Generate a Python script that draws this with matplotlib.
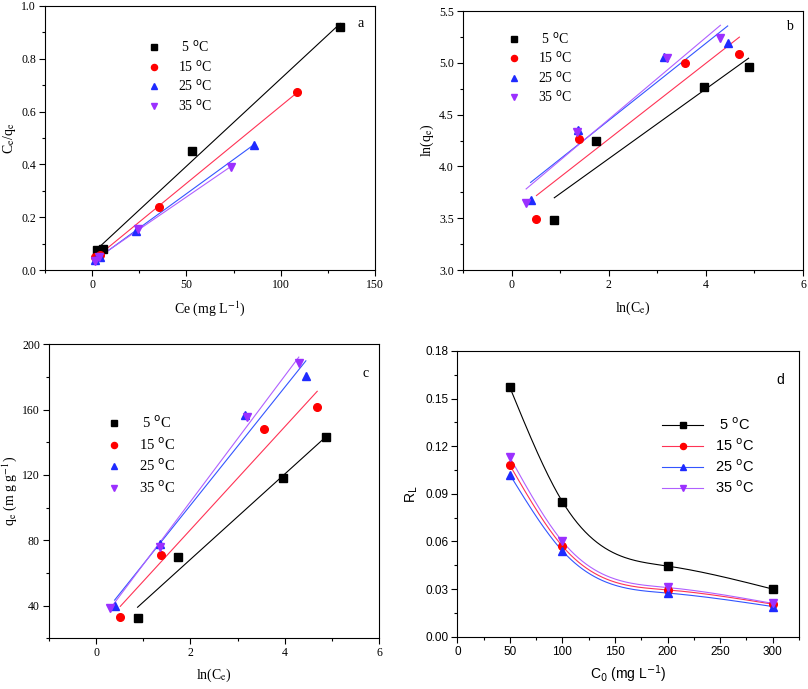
import numpy as np
import matplotlib
matplotlib.use("Agg")
import matplotlib.pyplot as plt
from matplotlib.ticker import MultipleLocator

# ---------------- data ----------------
temps = ["5", "15", "25", "35"]
# equilibrium concentration Ce (mg/L) and uptake qe (mg/g)
Ce_5 = [2.41, 5.64, 53.0, 131.6]
Ce_15 = [1.67, 3.97, 35.5, 108.9]
Ce_25 = [1.48, 3.90, 23.3, 85.6]
Ce_35 = [1.35, 3.86, 24.3, 73.7]
qe_5 = [32.5, 70.0, 118.0, 143.0]
qe_15 = [33.0, 71.0, 148.0, 161.5]
qe_25 = [39.5, 77.5, 157.0, 180.5]
qe_35 = [38.5, 76.0, 155.5, 188.5]
# separation factor R_L
C0 = [50, 100, 200, 300]
RL_5 = [0.157, 0.085, 0.0445, 0.030]
RL_15 = [0.108, 0.057, 0.0295, 0.0205]
RL_25 = [0.102, 0.054, 0.0275, 0.019]
RL_35 = [0.113, 0.060, 0.031, 0.021]

Ce_all = [Ce_5, Ce_15, Ce_25, Ce_35]
qe_all = [qe_5, qe_15, qe_25, qe_35]
RL_all = [RL_5, RL_15, RL_25, RL_35]

mk_colors = ["#000000", "#FF0000", "#1F2BFF", "#9B30FF"]
ln_colors = ["#000000", "#FF3355", "#3355FF", "#B060FF"]
markers = ["s", "o", "^", "v"]

SERIF = "Liberation Serif"
SANS = "Liberation Sans"

fig = plt.figure(figsize=(8.08, 6.89), dpi=100)


def style_axes(ax, family):
    ax.tick_params(which="both", direction="out", top=False, right=False,
                   labelsize=8.5, width=0.8, pad=2.5)
    ax.tick_params(which="major", length=4)
    ax.tick_params(which="minor", length=2.5)
    for lab in ax.get_xticklabels() + ax.get_yticklabels():
        lab.set_fontfamily(family)
    for s in ax.spines.values():
        s.set_linewidth(0.8)


def fitline(ax, x, y, color):
    x = np.asarray(x, float)
    y = np.asarray(y, float)
    k, b = np.polyfit(x, y, 1)
    xx = np.array([x.min(), x.max()])
    ax.plot(xx, k * xx + b, color=color, lw=0.8, zorder=2)


def natural_spline(x, y, n=200):
    x = np.asarray(x, float)
    y = np.asarray(y, float)
    m = len(x)
    h = np.diff(x)
    A = np.zeros((m, m))
    r = np.zeros(m)
    A[0, 0] = 1
    A[-1, -1] = 1
    for i in range(1, m - 1):
        A[i, i - 1] = h[i - 1]
        A[i, i] = 2 * (h[i - 1] + h[i])
        A[i, i + 1] = h[i]
        r[i] = 6 * ((y[i + 1] - y[i]) / h[i] - (y[i] - y[i - 1]) / h[i - 1])
    M = np.linalg.solve(A, r)
    xs = np.linspace(x[0], x[-1], n)
    ys = np.empty_like(xs)
    for j, t in enumerate(xs):
        i = min(np.searchsorted(x, t, side="right") - 1, m - 2)
        a = x[i + 1] - t
        b = t - x[i]
        ys[j] = (M[i] * a ** 3 / (6 * h[i]) + M[i + 1] * b ** 3 / (6 * h[i])
                 + (y[i] / h[i] - M[i] * h[i] / 6) * a
                 + (y[i + 1] / h[i] - M[i + 1] * h[i] / 6) * b)
    return xs, ys


def deg_label(t):
    return (" " if len(t) == 1 else "") + t + r" $^{\mathrm{o}}$C"


LEG_KW = dict(loc="upper left", frameon=False, handletextpad=1.2,
              labelspacing=0.25, handlelength=1.0, markerscale=0.8,
              borderaxespad=0, borderpad=0)

# ---------------- panel a ----------------
axa = fig.add_axes([0.0557, 0.6081, 0.4084, 0.3832])
for i in range(4):
    x = np.array(Ce_all[i])
    y = x / np.array(qe_all[i])
    fitline(axa, x, y, ln_colors[i])
    axa.plot(x, y, ls="none", marker=markers[i], color=mk_colors[i], ms=5.5,
             label=deg_label(temps[i]), zorder=3)
axa.set_xlim(-25, 150)
axa.set_ylim(0, 1.0)
axa.xaxis.set_major_locator(MultipleLocator(50))
axa.xaxis.set_minor_locator(MultipleLocator(25))
axa.yaxis.set_major_locator(MultipleLocator(0.2))
axa.yaxis.set_minor_locator(MultipleLocator(0.1))
axa.yaxis.set_major_formatter(matplotlib.ticker.FormatStrFormatter("%.1f"))
style_axes(axa, SERIF)
axa.set_xlabel(r"Ce (mg L$^{\mathrm{-1}}$)", fontfamily=SERIF, fontsize=10,
               math_fontfamily="stix", labelpad=6)
axa.set_ylabel(r"C$_{\mathrm{e}}$/q$_{\mathrm{e}}$", fontfamily=SERIF, fontsize=10,
               math_fontfamily="stix", labelpad=2)
axa.text(0.955, 0.935, "a", transform=axa.transAxes, fontfamily=SERIF, fontsize=10,
         ha="center", va="center")
axa.legend(bbox_to_anchor=(0.31, 0.875), prop={"family": SERIF, "size": 10},
           **LEG_KW)

# ---------------- panel b ----------------
axb = fig.add_axes([0.573, 0.6081, 0.4208, 0.3759])
for i in range(4):
    x = np.log(np.array(Ce_all[i]))
    y = np.log(np.array(qe_all[i]))
    fitline(axb, x, y, ln_colors[i])
    axb.plot(x, y, ls="none", marker=markers[i], color=mk_colors[i], ms=5.5,
             label=deg_label(temps[i]), zorder=3)
axb.set_xlim(-1, 6)
axb.set_ylim(3.0, 5.5)
axb.xaxis.set_major_locator(MultipleLocator(2))
axb.xaxis.set_minor_locator(MultipleLocator(1))
axb.yaxis.set_major_locator(MultipleLocator(0.5))
axb.yaxis.set_minor_locator(MultipleLocator(0.25))
axb.yaxis.set_major_formatter(matplotlib.ticker.FormatStrFormatter("%.1f"))
style_axes(axb, SERIF)
axb.set_xlabel(r"ln(C$_{\mathrm{e}}$)", fontfamily=SERIF, fontsize=10,
               math_fontfamily="stix", labelpad=6)
axb.set_ylabel(r"ln(q$_{\mathrm{e}}$)", fontfamily=SERIF, fontsize=10,
               math_fontfamily="stix", labelpad=2)
axb.text(0.96, 0.94, "b", transform=axb.transAxes, fontfamily=SERIF, fontsize=10,
         ha="center", va="center")
axb.legend(bbox_to_anchor=(0.13, 0.925), prop={"family": SERIF, "size": 10},
           **LEG_KW)

# ---------------- panel c ----------------
axc = fig.add_axes([0.0606, 0.0736, 0.4084, 0.4267])
for i in range(4):
    x = np.log(np.array(Ce_all[i]))
    y = np.array(qe_all[i])
    fitline(axc, x, y, ln_colors[i])
    axc.plot(x, y, ls="none", marker=markers[i], color=mk_colors[i], ms=5.5,
             label=deg_label(temps[i]), zorder=3)
axc.set_xlim(-1, 6)
axc.set_ylim(20, 200)
axc.set_yticks([40, 80, 120, 160, 200])
axc.xaxis.set_major_locator(MultipleLocator(2))
axc.xaxis.set_minor_locator(MultipleLocator(1))
axc.yaxis.set_minor_locator(MultipleLocator(20))
style_axes(axc, SERIF)
axc.set_xlabel(r"ln(C$_{\mathrm{e}}$)", fontfamily=SERIF, fontsize=10,
               math_fontfamily="stix", labelpad=5)
axc.set_ylabel(r"q$_{\mathrm{e}}$ (m g g$^{\mathrm{-1}}$)", fontfamily=SERIF,
               fontsize=10, math_fontfamily="stix", labelpad=2)
axc.text(0.96, 0.9, "c", transform=axc.transAxes, fontfamily=SERIF, fontsize=10,
         ha="center", va="center")
axc.legend(bbox_to_anchor=(0.175, 0.76), prop={"family": SERIF, "size": 10.5},
           **dict(LEG_KW, labelspacing=0.33))

# ---------------- panel d ----------------
axd = fig.add_axes([0.566, 0.0759, 0.4229, 0.4147])
for i in range(4):
    xs, ys = natural_spline(C0, RL_all[i])
    axd.plot(xs, ys, color=ln_colors[i], lw=0.8, zorder=2)
    axd.plot(C0, RL_all[i], ls="none", marker=markers[i], color=mk_colors[i],
             ms=5.5, zorder=3)
    axd.plot([], [], color=ln_colors[i], lw=0.8, marker=markers[i],
             mfc=mk_colors[i], mec=mk_colors[i], ms=5.5,
             label=(" " if len(temps[i]) == 1 else "") + temps[i] + r" $^{\mathrm{o}}$C")
axd.set_xlim(0, 325)
axd.set_ylim(0, 0.18)
axd.xaxis.set_major_locator(MultipleLocator(50))
axd.xaxis.set_minor_locator(MultipleLocator(25))
axd.yaxis.set_major_locator(MultipleLocator(0.03))
axd.yaxis.set_minor_locator(MultipleLocator(0.015))
axd.yaxis.set_major_formatter(matplotlib.ticker.FormatStrFormatter("%.2f"))
style_axes(axd, SANS)
axd.set_xlabel(r"C$_{\mathrm{0}}$ (mg L$^{\mathrm{-1}}$)", fontfamily=SANS,
               fontsize=10, math_fontfamily="dejavusans", labelpad=4)
axd.set_ylabel(r"R$_{\mathrm{L}}$", fontfamily=SANS, fontsize=10,
               math_fontfamily="dejavusans", labelpad=4)
axd.text(0.945, 0.9, "d", transform=axd.transAxes, fontfamily=SANS, fontsize=10,
         ha="center", va="center")
axd.legend(bbox_to_anchor=(0.6, 0.77), prop={"family": SANS, "size": 10.5},
           **dict(LEG_KW, handletextpad=0.8, handlelength=2.8, labelspacing=0.3))

fig.savefig("out.png", dpi=100)
